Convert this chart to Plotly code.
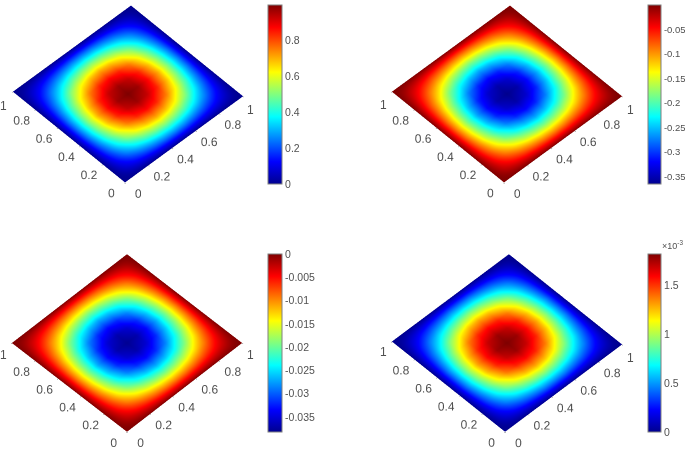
import plotly.graph_objects as go

axis_values = [i / 12 for i in range(13)]
axis_ticks = [0, 0.2, 0.4, 0.6, 0.8, 1]
axis_labels = ["0", "0.2", "0.4", "0.6", "0.8", ""]
corner_label = "1"

panel_a = [
 [0,0,0,0,0,0,0,0,0,0,0,0,0],
 [0,.07,.13,.18,.22,.25,.26,.25,.22,.18,.13,.07,0],
 [0,.13,.25,.35,.43,.48,.50,.48,.43,.35,.25,.13,0],
 [0,.18,.35,.50,.61,.68,.71,.68,.61,.50,.35,.18,0],
 [0,.22,.43,.61,.75,.84,.87,.84,.75,.61,.43,.22,0],
 [0,.25,.48,.68,.84,.93,.97,.93,.84,.68,.48,.25,0],
 [0,.26,.50,.71,.87,.97,1.0,.97,.87,.71,.50,.26,0],
 [0,.25,.48,.68,.84,.93,.97,.93,.84,.68,.48,.25,0],
 [0,.22,.43,.61,.75,.84,.87,.84,.75,.61,.43,.22,0],
 [0,.18,.35,.50,.61,.68,.71,.68,.61,.50,.35,.18,0],
 [0,.13,.25,.35,.43,.48,.50,.48,.43,.35,.25,.13,0],
 [0,.07,.13,.18,.22,.25,.26,.25,.22,.18,.13,.07,0],
 [0,0,0,0,0,0,0,0,0,0,0,0,0],
]
panel_b = [
 [0,0,0,0,0,0,0,0,0,0,0,0,0],
 [0,-.026,-.047,-.066,-.08,-.091,-.095,-.091,-.08,-.066,-.047,-.026,0],
 [0,-.047,-.091,-.128,-.157,-.175,-.183,-.175,-.157,-.128,-.091,-.047,0],
 [0,-.066,-.128,-.183,-.223,-.248,-.259,-.248,-.223,-.183,-.128,-.066,0],
 [0,-.08,-.157,-.223,-.274,-.307,-.318,-.307,-.274,-.223,-.157,-.08,0],
 [0,-.091,-.175,-.248,-.307,-.339,-.354,-.339,-.307,-.248,-.175,-.091,0],
 [0,-.095,-.183,-.259,-.318,-.354,-.365,-.354,-.318,-.259,-.183,-.095,0],
 [0,-.091,-.175,-.248,-.307,-.339,-.354,-.339,-.307,-.248,-.175,-.091,0],
 [0,-.08,-.157,-.223,-.274,-.307,-.318,-.307,-.274,-.223,-.157,-.08,0],
 [0,-.066,-.128,-.183,-.223,-.248,-.259,-.248,-.223,-.183,-.128,-.066,0],
 [0,-.047,-.091,-.128,-.157,-.175,-.183,-.175,-.157,-.128,-.091,-.047,0],
 [0,-.026,-.047,-.066,-.08,-.091,-.095,-.091,-.08,-.066,-.047,-.026,0],
 [0,0,0,0,0,0,0,0,0,0,0,0,0],
]
panel_c = [
 [0,0,0,0,0,0,0,0,0,0,0,0,0],
 [0,-.0027,-.0049,-.0068,-.0084,-.0095,-.0099,-.0095,-.0084,-.0068,-.0049,-.0027,0],
 [0,-.0049,-.0095,-.0133,-.0163,-.0182,-.019,-.0182,-.0163,-.0133,-.0095,-.0049,0],
 [0,-.0068,-.0133,-.019,-.0232,-.0258,-.027,-.0258,-.0232,-.019,-.0133,-.0068,0],
 [0,-.0084,-.0163,-.0232,-.0285,-.0319,-.0331,-.0319,-.0285,-.0232,-.0163,-.0084,0],
 [0,-.0095,-.0182,-.0258,-.0319,-.0353,-.0369,-.0353,-.0319,-.0258,-.0182,-.0095,0],
 [0,-.0099,-.019,-.027,-.0331,-.0369,-.038,-.0369,-.0331,-.027,-.019,-.0099,0],
 [0,-.0095,-.0182,-.0258,-.0319,-.0353,-.0369,-.0353,-.0319,-.0258,-.0182,-.0095,0],
 [0,-.0084,-.0163,-.0232,-.0285,-.0319,-.0331,-.0319,-.0285,-.0232,-.0163,-.0084,0],
 [0,-.0068,-.0133,-.019,-.0232,-.0258,-.027,-.0258,-.0232,-.019,-.0133,-.0068,0],
 [0,-.0049,-.0095,-.0133,-.0163,-.0182,-.019,-.0182,-.0163,-.0133,-.0095,-.0049,0],
 [0,-.0027,-.0049,-.0068,-.0084,-.0095,-.0099,-.0095,-.0084,-.0068,-.0049,-.0027,0],
 [0,0,0,0,0,0,0,0,0,0,0,0,0],
]
panel_d = [
 [0,0,0,0,0,0,0,0,0,0,0,0,0],
 [0,.13,.24,.33,.40,.46,.47,.46,.40,.33,.24,.13,0],
 [0,.24,.46,.64,.78,.87,.91,.87,.78,.64,.46,.24,0],
 [0,.33,.64,.91,1.11,1.24,1.29,1.24,1.11,.91,.64,.33,0],
 [0,.40,.78,1.11,1.37,1.53,1.58,1.53,1.37,1.11,.78,.40,0],
 [0,.46,.87,1.24,1.53,1.69,1.77,1.69,1.53,1.24,.87,.46,0],
 [0,.47,.91,1.29,1.58,1.77,1.82,1.77,1.58,1.29,.91,.47,0],
 [0,.46,.87,1.24,1.53,1.69,1.77,1.69,1.53,1.24,.87,.46,0],
 [0,.40,.78,1.11,1.37,1.53,1.58,1.53,1.37,1.11,.78,.40,0],
 [0,.33,.64,.91,1.11,1.24,1.29,1.24,1.11,.91,.64,.33,0],
 [0,.24,.46,.64,.78,.87,.91,.87,.78,.64,.46,.24,0],
 [0,.13,.24,.33,.40,.46,.47,.46,.40,.33,.24,.13,0],
 [0,0,0,0,0,0,0,0,0,0,0,0,0],
]
bar_a = [0, .2, .4, .6, .8]
bar_a_text = ["0", "0.2", "0.4", "0.6", "0.8"]
bar_b = [0, -.05, -.1, -.15, -.2, -.25, -.3, -.35]
bar_b_text = ["0", "-0.05", "-0.1", "-0.15", "-0.2", "-0.25", "-0.3", "-0.35"]
bar_c = [0, -.005, -.01, -.015, -.02, -.025, -.03, -.035]
bar_c_text = ["0", "-0.005", "-0.01", "-0.015", "-0.02", "-0.025", "-0.03", "-0.035"]
bar_d = [0, .5, 1, 1.5]
bar_d_text = ["0", "0.5", "1", "1.5"]

W, H = 685, 450
jet = [[0, "rgb(0,0,143)"], [.125, "rgb(0,0,255)"], [.375, "rgb(0,255,255)"],
       [.625, "rgb(255,255,0)"], [.875, "rgb(255,0,0)"], [1, "rgb(128,0,0)"]]
FONT = "Liberation Sans"
TXT = "#505050"

# px boxes: scene (x0,x1,y0,y1), colourbar (x0,x1,ytop,ybottom), colour limits, camera shift, eye x/y/z, bar font
panels = [
    (panel_a, (0, 256, 0, 214), (268, 282, 5, 184), 0, 1.0, bar_a, bar_a_text, -.19, (-.639, -.673, .925), 10.5),
    (panel_b, (379, 635, 0, 214), (648, 661, 5, 184), -.365, 0, bar_b, bar_b_text, -.19, (-.639, -.673, .925), 9.5),
    (panel_c, (0, 254, 236, 450), (268, 282, 254, 432), -.0382, 0, bar_c, bar_c_text, 0, (-.656, -.656, 1.125), 10.5),
    (panel_d, (379, 635, 236, 450), (648, 661, 254, 432), 0, 1.82, bar_d, bar_d_text, 0, (-.645, -.667, 1.125), 10.5),
]
corner_spots = [(3, 106), (250, 110), (383, 105), (630, 110), (3, 355), (250, 355), (383, 352), (630, 358)]

fig = go.Figure()
layout = {}
for n, (z, box, cb, lo, hi, tv, tt, shift, eye, bfont) in enumerate(panels, 1):
    name = "scene" if n == 1 else f"scene{n}"
    fig.add_trace(go.Surface(
        x=axis_values, y=axis_values, z=[[0] * 13 for _ in axis_values],
        surfacecolor=z, cmin=lo, cmax=hi, colorscale=jet, scene=name,
        lighting=dict(ambient=1, diffuse=0, specular=0, fresnel=0, roughness=1),
        hoverinfo="skip",
        colorbar=dict(
            x=cb[0] / W, xanchor="left", xref="paper",
            y=1 - cb[3] / H, yanchor="bottom", yref="paper",
            len=(cb[3] - cb[2]) / H, lenmode="fraction",
            thickness=cb[1] - cb[0], thicknessmode="pixels",
            outlinecolor="#808080", outlinewidth=1, borderwidth=0,
            tickmode="array", tickvals=tv, ticktext=tt, ticks="",
            tickfont=dict(family=FONT, size=bfont, color=TXT), xpad=0, ypad=0,
        ),
    ))
    ax = dict(range=[0, 1], tickmode="array", tickvals=axis_ticks, ticktext=axis_labels,
              title="", showgrid=False, zeroline=False, showbackground=False,
              showspikes=False, showline=False, ticks="outside", ticklen=1, tickangle=0,
              tickcolor="#606060", tickfont=dict(family=FONT, size=12, color=TXT))
    layout[name] = dict(
        domain=dict(x=[box[0] / W, box[1] / W], y=[1 - box[3] / H, 1 - box[2] / H]),
        xaxis=ax, yaxis=ax,
        zaxis=dict(visible=False, range=[-1, 1]),
        aspectmode="manual", aspectratio=dict(x=1.523, y=1.523, z=0.01),
        camera=dict(projection=dict(type="orthographic"),
                    up=dict(x=0, y=0, z=1), center=dict(x=0, y=0, z=shift),
                    eye=dict(x=eye[0], y=eye[1], z=eye[2])),
    )

fig.update_layout(width=W, height=H, margin=dict(l=0, r=0, t=0, b=0),
                  paper_bgcolor="white", showlegend=False,
                  font=dict(family=FONT, color=TXT), **layout)
fig.add_annotation(text="×10<sup>-3</sup>", x=660 / W, y=1 - 245 / H, xref="paper", yref="paper",
                   xanchor="left", yanchor="middle", showarrow=False,
                   font=dict(family=FONT, size=9, color=TXT))
for px, py in corner_spots:
    fig.add_annotation(text=corner_label, x=px / W, y=1 - py / H, xref="paper", yref="paper",
                       xanchor="center", yanchor="middle", showarrow=False,
                       font=dict(family=FONT, size=12, color=TXT))
fig.write_html("out.html", config={"displayModeBar": False},
               post_script="document.body.style.margin='0';document.documentElement.style.overflow='hidden';")
